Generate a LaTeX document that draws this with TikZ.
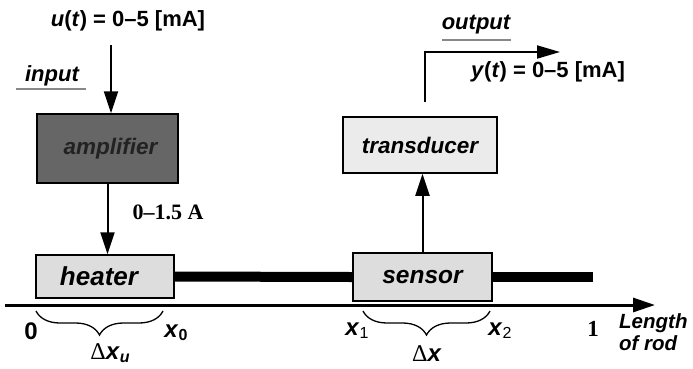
\documentclass[tikz,border=0pt]{standalone}
\usepackage{fontspec}
\setmainfont{Liberation Sans}
\newfontfamily\serifb{Liberation Serif}
\usetikzlibrary{arrows.meta,decorations.pathreplacing}
\definecolor{ampfill}{HTML}{666666}
\definecolor{boxfill}{HTML}{DDDDDD}
\definecolor{trfill}{HTML}{EBEBEB}
\definecolor{ulgray}{HTML}{888888}
\tikzset{
  blk/.style={draw, line width=1.5pt, inner sep=0pt},
  sig/.style={line width=2pt, -{Triangle[length=22pt,width=14pt]}},
  ul/.style={draw=ulgray, line width=1.5pt},
  brc/.style={decorate, decoration={brace, mirror, amplitude=24pt}, line width=1.3pt},
  axlab/.style={font=\fontsize{24}{26}\selectfont, inner sep=0pt},
  siglab/.style={font=\fontsize{22}{24}\selectfont\bfseries},
}
\begin{document}
\begin{tikzpicture}[x=1pt,y=-1pt]
\useasboundingbox (0,0) rectangle (693,368);
% blocks
\node[blk, fill=ampfill, minimum width=141pt, minimum height=69pt] (amp) at (107.5,148.5)
  {\hspace*{6pt}\fontsize{22.5}{24}\selectfont\bfseries\itshape\color[HTML]{222222}amplifier};
\node[blk, fill=boxfill, minimum width=138pt, minimum height=43pt] (heater) at (105,276.5)
  {\fontsize{26}{28}\selectfont\bfseries\itshape heater\hspace*{12pt}};
\node[blk, fill=boxfill, minimum width=139pt, minimum height=48pt] (sensor) at (422.5,277)
  {\fontsize{24.5}{28}\selectfont\bfseries\itshape sensor};
\node[blk, fill=trfill, minimum width=154pt, minimum height=56pt] (trans) at (420,145)
  {\fontsize{22.5}{26}\selectfont\bfseries\itshape transducer};
% rod
\coordinate (rodend) at (593,277);
\draw[line width=10pt] (heater.east) -- (sensor.west);
\draw[line width=10pt] (sensor.east) -- (rodend);
% axis
\coordinate (axs) at (5,305);
\coordinate (axe) at (655,305);
\draw[line width=3pt, -{Triangle[length=22pt,width=14pt]}] (axs) -- (axe);
% input
\node[siglab] (ulab) at (128,21) {\textit{u}(\textit{t}) = 0–5 [mA]};
\coordinate (uin) at (111,45);
\draw[sig] (uin) -- (uin |- amp.north);
\node[siglab, font=\fontsize{22}{24}\selectfont\bfseries\itshape] (inp) at (52,76) {input};
\coordinate (inl) at (16,89);
\coordinate (inr) at (86,89);
\draw[ul] (inl) -- (inr);
% amp to heater
\draw[sig] (amp.south) -- (amp.south |- heater.north);
\node[font=\fontsize{22}{24}\selectfont\serifb\bfseries] (curr) at (168,212) {0–1.5 A};
% sensor to transducer
\draw[sig] (sensor.north) -- (sensor.north |- trans.south);
% output
\coordinate (os) at (425,102);
\coordinate (oc) at (425,52);
\coordinate (oe) at (560,52);
\draw[line width=2pt, -{Triangle[length=23pt,width=13pt]}] (os) -- (oc) -- (oe);
\node[siglab, font=\fontsize{22}{24}\selectfont\bfseries\itshape] (outl) at (476,25) {output};
\coordinate (ol) at (442,40);
\coordinate (or) at (511,40);
\draw[ul] (ol) -- (or);
\node[siglab] (ylab) at (548,72) {\textit{y}(\textit{t}) = 0–5 [mA]};
% braces
\coordinate (b1l) at (36,311);
\coordinate (b1r) at (163,311);
\draw[brc] (b1l) -- (b1r);
\node[axlab] (dxu) at (110,353) {{\serifb Δ}\textbf{\textit{x}}\raisebox{-3pt}{\fontsize{16}{17}\selectfont\bfseries\itshape u}};
\coordinate (b2l) at (363,311);
\coordinate (b2r) at (490,311);
\draw[brc] (b2l) -- (b2r);
\node[axlab] (dx) at (427,354) {{\serifb Δ}\textbf{\textit{x}}};
% axis labels
\node[axlab, font=\fontsize{24}{26}\selectfont\bfseries] (zero) at (31,331) {0};
\node[axlab] (x0) at (176,333) {\textbf{\textit{x}}\raisebox{-3pt}{\fontsize{16}{17}\selectfont\bfseries 0}};
\node[axlab] (x1) at (357,331) {\textbf{\textit{x}}\raisebox{-3pt}{\fontsize{16}{17}\selectfont 1}};
\node[axlab] (x2) at (500,331) {\textbf{\textit{x}}\raisebox{-3pt}{\fontsize{16}{17}\selectfont 2}};
\node[axlab, font=\fontsize{23}{25}\selectfont\serifb\bfseries] (one) at (593,329) {1};
\node[font=\fontsize{20.5}{22}\selectfont\bfseries\itshape, align=left, inner sep=0pt, anchor=north west] (len) at (619,313) {Length\\of rod};
\end{tikzpicture}
\end{document}
